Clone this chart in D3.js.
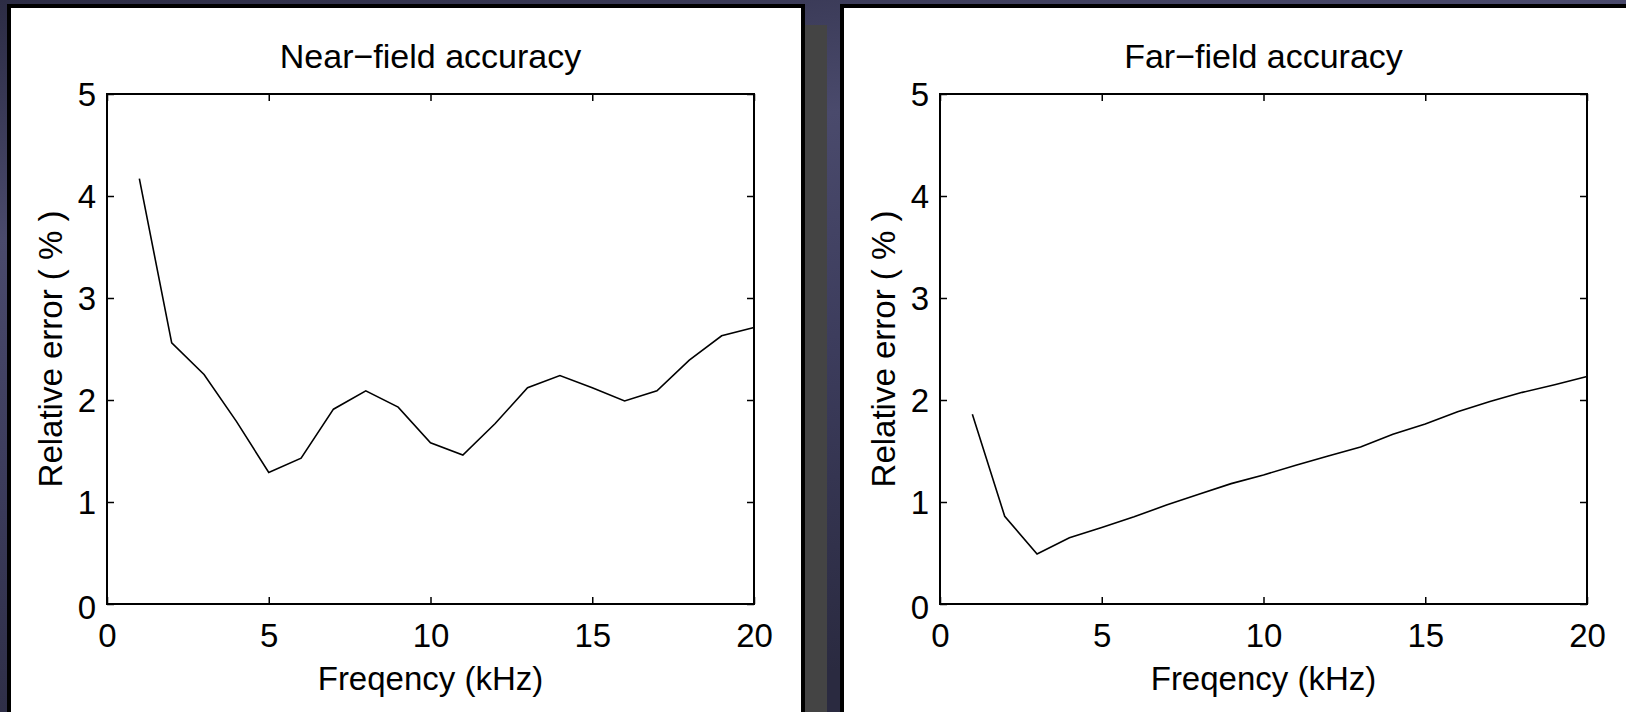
<!DOCTYPE html>
<html>
<head>
<meta charset="utf-8">
<script src="https://cdn.jsdelivr.net/npm/d3@7/dist/d3.min.js"></script>
<style>
  html, body { margin: 0; padding: 0; background: #3a3a58; }
  svg { display: block; }
  text { font-family: "Liberation Sans", Arial, Helvetica, sans-serif; fill: #000; }
</style>
</head>
<body>
<svg id="chart" width="1626" height="712"></svg>
<script>
// Frequencies (kHz) and relative error (%) for both measurement setups
const freqKHz = [1, 2, 3, 4, 5, 6, 7, 8, 9, 10, 11, 12, 13, 14, 15, 16, 17, 18, 19, 20];
const nearFieldError = [4.17, 2.56, 2.25, 1.79, 1.29, 1.43, 1.91, 2.09, 1.93, 1.58,
                        1.46, 1.77, 2.12, 2.24, 2.12, 1.99, 2.09, 2.39, 2.63, 2.71];
const farFieldError = [1.86, 0.86, 0.49, 0.65, 0.75, 0.855, 0.97, 1.075, 1.18, 1.265,
                       1.36, 1.45, 1.54, 1.665, 1.765, 1.885, 1.985, 2.075, 2.15, 2.23];
const xTicks = [0, 5, 10, 15, 20];
const yTicks = [0, 1, 2, 3, 4, 5];
const titles = ["Near\u2212field accuracy", "Far\u2212field accuracy"];
const xLabel = "Freqency (kHz)";
const yLabel = "Relative error ( % )";

const svg = d3.select("#chart");
const W = 1626, H = 712;

// Backdrop
const defs = svg.append("defs");
const bg = defs.append("linearGradient").attr("id", "bg")
  .attr("x1", "0").attr("y1", "0").attr("x2", "0.35").attr("y2", "1");
bg.append("stop").attr("offset", "0%").attr("stop-color", "#2c2c44");
bg.append("stop").attr("offset", "30%").attr("stop-color", "#4a4a6c");
bg.append("stop").attr("offset", "60%").attr("stop-color", "#3c3c5c");
bg.append("stop").attr("offset", "100%").attr("stop-color", "#2a2a40");
svg.append("rect").attr("width", W).attr("height", H).attr("fill", "url(#bg)");
svg.append("rect").attr("x", 805).attr("y", 25).attr("width", 22).attr("height", H - 25).attr("fill", "#444444");

// Panels (white with thick black frame)
const panels = [
  { x0: 7, x1: 805, plotLeft: 107, data: nearFieldError, title: titles[0] },
  { x0: 840, x1: 1640, plotLeft: 940, data: farFieldError, title: titles[1] }
];

const plotTop = 94, plotBottom = 604, plotW = 647;

panels.forEach(p => {
  svg.append("rect")
    .attr("x", p.x0 + 2).attr("y", 6)
    .attr("width", p.x1 - p.x0 - 4).attr("height", H)
    .attr("fill", "#fff").attr("stroke", "#000").attr("stroke-width", 4);

  const x = d3.scaleLinear().domain([0, 20]).range([p.plotLeft, p.plotLeft + plotW]);
  const y = d3.scaleLinear().domain([0, 5]).range([plotBottom, plotTop]);
  const g = svg.append("g");

  const styleAxis = sel => {
    sel.select(".domain").remove();
    sel.selectAll(".tick line").attr("stroke", "#000").attr("stroke-width", 1.5);
    sel.selectAll(".tick text").style("font-size", "33px")
      .style("font-family", "'Liberation Sans', Arial, sans-serif").attr("fill", "#000");
  };

  g.append("g").attr("transform", `translate(0,${plotBottom})`)
    .call(d3.axisBottom(x).tickValues(xTicks).tickFormat(d3.format("d")).tickSize(-7).tickPadding(0))
    .call(styleAxis)
    .call(s => s.selectAll(".tick text").attr("y", 43).attr("dy", 0));

  g.append("g").attr("transform", `translate(0,${plotTop})`)
    .call(d3.axisTop(x).tickValues(xTicks).tickFormat("").tickSize(-7))
    .call(styleAxis);

  g.append("g").attr("transform", `translate(${p.plotLeft},0)`)
    .call(d3.axisLeft(y).tickValues(yTicks).tickFormat(d3.format("d")).tickSize(-7).tickPadding(0))
    .call(styleAxis)
    .call(s => s.selectAll(".tick text").attr("x", -11)
      .attr("dy", d => d === 0 ? "0.44em" : "0.36em"));

  g.append("g").attr("transform", `translate(${p.plotLeft + plotW},0)`)
    .call(d3.axisRight(y).tickValues(yTicks).tickFormat("").tickSize(-7))
    .call(styleAxis);

  // Axes box
  g.append("rect")
    .attr("x", x(0)).attr("y", y(5))
    .attr("width", x(20) - x(0)).attr("height", y(0) - y(5))
    .attr("fill", "none").attr("stroke", "#000").attr("stroke-width", 2);

  // Error curve
  const line = d3.line().x((d, i) => x(freqKHz[i])).y(d => y(d));
  g.append("path").datum(p.data)
    .attr("d", line)
    .attr("fill", "none").attr("stroke", "#000").attr("stroke-width", 1.6)
    .attr("stroke-linejoin", "miter");

  const cx = (x(0) + x(20)) / 2;
  g.append("text").attr("x", cx).attr("y", 68)
    .attr("text-anchor", "middle").style("font-size", "34px").text(p.title);
  g.append("text").attr("x", cx).attr("y", 690)
    .attr("text-anchor", "middle").style("font-size", "33px").text(xLabel);
  g.append("text")
    .attr("transform", `translate(${p.plotLeft - 45},${(plotTop + plotBottom) / 2}) rotate(-90)`)
    .attr("text-anchor", "middle").style("font-size", "33px").text(yLabel);
});
</script>
</body>
</html>
